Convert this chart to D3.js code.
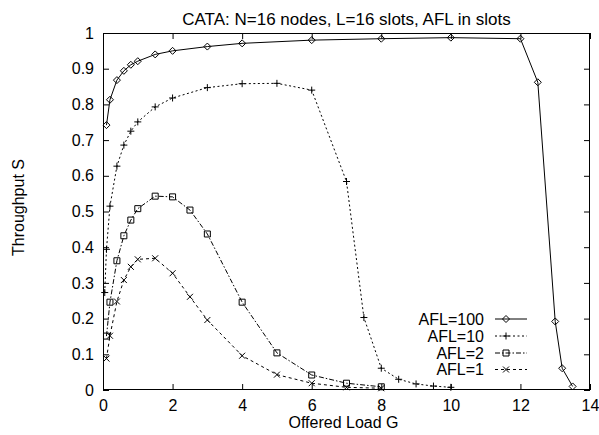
<!DOCTYPE html>
<html><head><meta charset="utf-8">
<script src="https://cdn.jsdelivr.net/npm/d3@7"></script>
<style>body{margin:0;background:#fff} text{font-family:"Liberation Sans",Arial,Helvetica,sans-serif;fill:#000}</style>
</head><body><svg id="c" width="599" height="435"></svg>
<script>
const title = "CATA: N=16 nodes, L=16 slots, AFL in slots";
const xLabel = "Offered Load G";
const yLabel = "Throughput S";
const xTicks = [0, 2, 4, 6, 8, 10, 12, 14];
const xTickLabels = ["0", "2", "4", "6", "8", "10", "12", "14"];
const yTicks = [0, 0.1, 0.2, 0.3, 0.4, 0.5, 0.6, 0.7, 0.8, 0.9, 1];
const yTickLabels = ["0", "0.1", "0.2", "0.3", "0.4", "0.5", "0.6", "0.7", "0.8", "0.9", "1"];
const seriesNames = ["AFL=100", "AFL=10", "AFL=2", "AFL=1"];

const g100 = [0.1, 0.2, 0.4, 0.6, 0.8, 1, 1.5, 2, 3, 4, 6, 8, 10, 12, 12.5, 13, 13.2, 13.5];
const s100 = [0.742, 0.813, 0.868, 0.894, 0.911, 0.921, 0.94, 0.95, 0.962, 0.971, 0.98, 0.984, 0.987, 0.984, 0.862, 0.192, 0.061, 0.01];

const g10 = [0.05, 0.1, 0.2, 0.4, 0.6, 0.8, 1, 1.5, 2, 3, 4, 5, 6, 7, 7.5, 8, 8.5, 9, 9.5, 10];
const s10 = [0.273, 0.394, 0.515, 0.627, 0.686, 0.725, 0.751, 0.793, 0.818, 0.847, 0.858, 0.859, 0.84, 0.584, 0.203, 0.061, 0.03, 0.017, 0.011, 0.0075];

const g2 = [0.1, 0.2, 0.4, 0.6, 0.8, 1, 1.5, 2, 2.5, 3, 4, 5, 6, 7, 8];
const s2 = [0.151, 0.246, 0.362, 0.432, 0.476, 0.508, 0.543, 0.541, 0.504, 0.437, 0.246, 0.104, 0.042, 0.019, 0.009];

const g1 = [0.1, 0.2, 0.4, 0.6, 0.8, 1, 1.5, 2, 2.5, 3, 4, 5, 6, 7, 8];
const s1 = [0.088, 0.152, 0.248, 0.308, 0.345, 0.366, 0.369, 0.327, 0.261, 0.196, 0.096, 0.043, 0.019, 0.0075, 0.005];

const W = 599, H = 435;
const M = {left: 103, right: 590, top: 33, bottom: 390};
const FS = 16;
const svg = d3.select("#c");
const x = d3.scaleLinear().domain([0, 14]).range([M.left, M.right]);
const y = d3.scaleLinear().domain([0, 1]).range([M.bottom, M.top]);

const series = [
  {name: seriesNames[0], g: g100, s: s100, dash: null, marker: "diamond"},
  {name: seriesNames[1], g: g10, s: s10, dash: "2,2.5", marker: "plus"},
  {name: seriesNames[2], g: g2, s: s2, dash: "5,2,1.5,2", marker: "square"},
  {name: seriesNames[3], g: g1, s: s1, dash: "3,3", marker: "cross"}
];

function drawMarker(sel, type, cx, cy) {
  const r = 3.5;
  let d;
  if (type === "diamond") d = `M${cx},${cy-r}L${cx+r},${cy}L${cx},${cy+r}L${cx-r},${cy}Z`;
  else if (type === "plus") d = `M${cx-r},${cy}H${cx+r}M${cx},${cy-r}V${cy+r}`;
  else if (type === "square") d = `M${cx-3},${cy-3}h6v6h-6Z`;
  else d = `M${cx-3},${cy-3}L${cx+3},${cy+3}M${cx-3},${cy+3}L${cx+3},${cy-3}`;
  sel.append("path").attr("d", d).attr("fill", "none").attr("stroke", "#000").attr("stroke-width", 1);
}

// axes with inward ticks (gnuplot style, mirrored)
const tl = 6;
svg.append("g").attr("transform", `translate(0,${M.bottom})`)
  .call(d3.axisBottom(x).tickValues(xTicks).tickSize(-tl).tickFormat((d, i) => xTickLabels[i]).tickPadding(10))
  .call(g => { g.select(".domain").remove(); g.selectAll("text").attr("font-size", FS).attr("font-family", "Liberation Sans, Arial, sans-serif"); });
svg.append("g").attr("transform", `translate(0,${M.top})`)
  .call(d3.axisTop(x).tickValues(xTicks).tickSize(-tl).tickFormat(""))
  .call(g => g.select(".domain").remove());
svg.append("g").attr("transform", `translate(${M.left},0)`)
  .call(d3.axisLeft(y).tickValues(yTicks).tickSize(-tl).tickFormat((d, i) => yTickLabels[i]).tickPadding(9))
  .call(g => { g.select(".domain").remove(); g.selectAll("text").attr("font-size", FS).attr("font-family", "Liberation Sans, Arial, sans-serif"); });
svg.append("g").attr("transform", `translate(${M.right},0)`)
  .call(d3.axisRight(y).tickValues(yTicks).tickSize(-tl).tickFormat(""))
  .call(g => g.select(".domain").remove());

// frame
svg.append("rect").attr("x", M.left + 0.5).attr("y", M.top + 0.5)
  .attr("width", M.right - M.left - 1).attr("height", M.bottom - M.top - 1)
  .attr("fill", "none").attr("stroke", "#000").attr("stroke-width", 1);

const line = d3.line().x(d => x(d[0])).y(d => y(d[1]));
series.forEach(sr => {
  const pts = sr.g.map((g, i) => [g, sr.s[i]]);
  svg.append("path").datum(pts).attr("d", line).attr("fill", "none")
    .attr("stroke", "#000").attr("stroke-width", 1).attr("stroke-dasharray", sr.dash);
  const mg = svg.append("g");
  pts.forEach(p => drawMarker(mg, sr.marker, x(p[0]), y(p[1])));
});

// legend
const legY = [319, 336, 353, 369.5];
series.forEach((sr, i) => {
  const cy = legY[i];
  svg.append("text").attr("x", 484).attr("y", cy + 5.5).attr("text-anchor", "end")
    .attr("font-size", FS).text(sr.name);
  svg.append("line").attr("x1", 495).attr("x2", 527).attr("y1", cy).attr("y2", cy)
    .attr("stroke", "#000").attr("stroke-width", 1).attr("stroke-dasharray", sr.dash);
  drawMarker(svg, sr.marker, 506, cy);
});

// title and axis labels
svg.append("text").attr("x", (M.left + M.right) / 2).attr("y", 25).attr("text-anchor", "middle")
  .attr("font-size", 17).text(title);
svg.append("text").attr("x", (M.left + M.right) / 2 - 3).attr("y", 428).attr("text-anchor", "middle")
  .attr("font-size", FS).text(xLabel);
svg.append("text").attr("transform", `translate(24,${(M.top + M.bottom) / 2 - 4}) rotate(-90)`)
  .attr("text-anchor", "middle").attr("font-size", FS).text(yLabel);
</script></body></html>
